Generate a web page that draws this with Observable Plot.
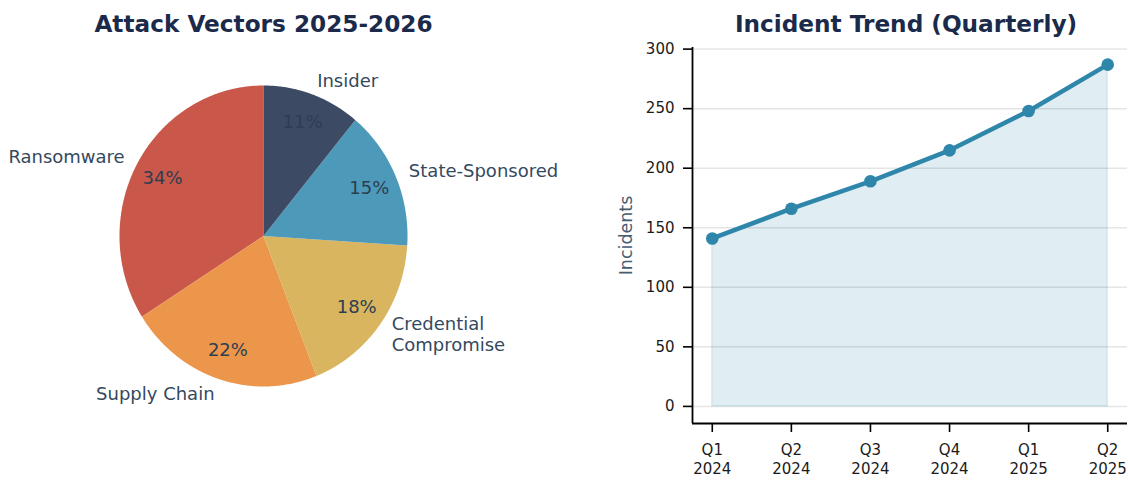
<!DOCTYPE html>
<html><head><meta charset="utf-8">
<script src="https://cdn.jsdelivr.net/npm/d3@7"></script>
<script src="https://cdn.jsdelivr.net/npm/@observablehq/plot@0.6"></script>
<style>
body{margin:0;background:#fff;}
#wrap{position:relative;width:1128px;height:485px;overflow:hidden;background:#fff;font-family:"DejaVu Sans",sans-serif;}
.title{position:absolute;top:12px;font-weight:bold;font-size:23.2px;line-height:1;color:#1b2a4a;text-align:center;white-space:nowrap;}
#pie{position:absolute;left:0;top:0;}
#trend{position:absolute;left:600px;top:0;}
</style></head><body>
<div id="wrap">
<div id="pie"></div><div id="trend"></div>
<div class="title" style="left:0;width:527px">Attack Vectors 2025-2026</div>
<div class="title" style="left:686px;width:440px">Incident Trend (Quarterly)</div>
</div>
<script>
// ---- data ----
const vectorLabels = ["Ransomware", "Supply Chain", "Credential\nCompromise", "State-Sponsored", "Insider"];
const vectorShares = [34, 22, 18, 15, 11];
const vectorColors = ["#c9574a", "#ec964c", "#d9b55f", "#4c99b9", "#3c4a64"];
const quarterLabels = ["Q1\n2024", "Q2\n2024", "Q3\n2024", "Q4\n2024", "Q1\n2025", "Q2\n2025"];
const incidents = [141, 166, 189, 215, 248, 287];
const incidentTicks = [0, 50, 100, 150, 200, 250, 300];

// ---- pie geometry (start at 90deg, counter-clockwise) ----
const total = d3.sum(vectorShares);
let acc = 90;
const slices = vectorShares.map((v, i) => {
  const a0 = acc, a1 = acc + 360 * v / total; acc = a1;
  return {label: vectorLabels[i], share: v, a0, a1, mid: (a0 + a1) / 2};
});
const rad = d => d * Math.PI / 180;
const outline = slices.flatMap(s => {
  const n = Math.max(2, Math.ceil((s.a1 - s.a0) / 0.5));
  const pts = [{label: s.label, x: 0, y: 0}];
  for (let k = 0; k <= n; k++) {
    const a = rad(s.a0 + (s.a1 - s.a0) * k / n);
    pts.push({label: s.label, x: Math.cos(a), y: Math.sin(a)});
  }
  return pts;
});
const labelPos = slices.map(s => ({text: s.label, x: 1.1 * Math.cos(rad(s.mid)), y: 1.1 * Math.sin(rad(s.mid))}));
const pctPos = slices.map(s => ({text: Math.round(100 * s.share / total) + "%", x: 0.8 * Math.cos(rad(s.mid)), y: 0.8 * Math.sin(rad(s.mid))}));

const pie = Plot.plot({
  width: 600, height: 485,
  marginLeft: 119, marginRight: 193, marginTop: 85, marginBottom: 99,
  x: {domain: [-1, 1], axis: null},
  y: {domain: [-1, 1], axis: null},
  color: {domain: vectorLabels, range: vectorColors},
  style: {fontFamily: "DejaVu Sans", background: "transparent", overflow: "visible"},
  marks: [
    Plot.line(outline, {x: "x", y: "y", z: "label", fill: "label", stroke: "none"}),
    Plot.text(labelPos.filter(d => d.x < 0), {x: "x", y: "y", text: "text", textAnchor: "end", fontSize: 18, fill: "#34495e", lineHeight: 1.17}),
    Plot.text(labelPos.filter(d => d.x >= 0), {x: "x", y: "y", text: "text", textAnchor: "start", fontSize: 18, fill: "#34495e", lineHeight: 1.17}),
    Plot.text(pctPos, {x: "x", y: "y", text: "text", fontSize: 18, fill: "#2c3e50"})
  ]
});
document.getElementById("pie").appendChild(pie);

// ---- trend ----
const n = incidents.length;
const trend = incidents.map((v, i) => ({i, v}));
const xDomain = [-0.05 * (n - 1), (n - 1) * 1.05];
const yMax = d3.max(incidents);
const yDomain = [-0.05 * yMax, yMax * 1.05];

const chart = Plot.plot({
  width: 528, height: 485,
  marginLeft: 92, marginRight: 1, marginTop: 47, marginBottom: 62,
  x: {domain: xDomain, axis: null},
  y: {domain: yDomain, axis: null},
  style: {fontFamily: "DejaVu Sans", fontSize: "15px", color: "#1a1a1a", background: "transparent", overflow: "visible"},
  marks: [
    Plot.areaY(trend, {x: "i", y: "v", fill: "#2e86ab", fillOpacity: 0.15, stroke: "#2e86ab", strokeOpacity: 0.15, strokeWidth: 1.2}),
    Plot.gridY(incidentTicks, {stroke: "#000", strokeOpacity: 0.1, strokeWidth: 1.5}),
    Plot.lineY(trend, {x: "i", y: "v", stroke: "#2e86ab", strokeWidth: 4.5}),
    Plot.dot(trend, {x: "i", y: "v", r: 6.3, fill: "#2e86ab"}),
    Plot.ruleX([xDomain[0]], {stroke: "#000", strokeWidth: 1.8}),
    Plot.ruleY([yDomain[0]], {stroke: "#000", strokeWidth: 1.8}),
    Plot.axisY(incidentTicks, {tickSize: 9, tickPadding: 9, strokeWidth: 1.6, stroke: "#000", fill: "#1a1a1a", fontSize: 15, label: null}),
    Plot.axisX(d3.range(n), {tickSize: 9, tickPadding: 8.5, strokeWidth: 1.6, stroke: "#000", fill: "#1a1a1a", fontSize: 15, tickFormat: i => quarterLabels[i], lineHeight: 1.3, label: null}),
    Plot.text(["Incidents"], {frameAnchor: "left", dx: -66, rotate: -90, textAnchor: "middle", fontSize: 17.5, fill: "#475b71"})
  ]
});
document.getElementById("trend").appendChild(chart);
</script>
</body></html>
